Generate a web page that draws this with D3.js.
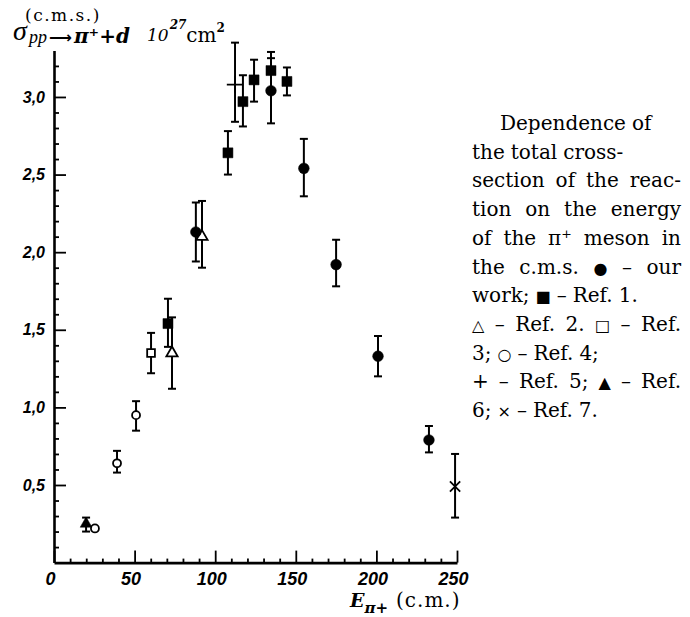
<!DOCTYPE html>
<html>
<head>
<meta charset="utf-8">
<script src="https://cdn.jsdelivr.net/npm/d3@7"></script>
<style>
  body { margin: 0; background: #fff; }
</style>
</head>
<body>
<div id="chart"></div>
<script>
// each row: [E (MeV, c.m.), sigma, lower error end, upper error end]
const ourWork = [[88, 2.13, 1.94, 2.32], [134.6, 3.04, 2.83, 3.25], [155, 2.54, 2.36, 2.73],
                 [175, 1.92, 1.78, 2.08], [201, 1.33, 1.20, 1.46], [232.6, 0.79, 0.71, 0.88]];
const ref1 = [[70.7, 1.54, 1.39, 1.70], [107.9, 2.64, 2.50, 2.78], [117.2, 2.97, 2.81, 3.14],
              [124.1, 3.11, 2.97, 3.24], [134.6, 3.17, 3.05, 3.29], [144.5, 3.10, 3.01, 3.19]];
const ref2 = [[73.2, 1.35, 1.12, 1.58], [91.8, 2.10, 1.90, 2.33]];
const ref3 = [[60.2, 1.35, 1.22, 1.48]];
const ref4 = [[25.4, 0.22, null, null], [39.1, 0.64, 0.58, 0.72], [50.9, 0.95, 0.85, 1.04]];
const ref5 = [[112.3, 3.08, 2.84, 3.35]];
const ref6 = [[19.9, 0.25, 0.20, 0.29]];
const ref7 = [[248.8, 0.49, 0.29, 0.70]];

const xMajor = [0, 50, 100, 150, 200, 250];
const yMajor = [0.5, 1.0, 1.5, 2.0, 2.5, 3.0];

const caption = [
  "Dependence of",
  "the total cross-",
  "section of the reac-",
  "tion on the energy",
  "of the π⁺ meson in",
  "the c.m.s. ● – our",
  "work; ■ – Ref. 1.",
  "△ – Ref. 2. □ – Ref.",
  "3; ○ – Ref. 4;",
  "+ – Ref. 5; ▲ – Ref.",
  "6; × – Ref. 7."
];
const justified = [false, false, true, true, true, true, false, true, false, true, false];
const symbols = ["●", "■", "△", "□", "○", "▲", "×"];

// canvas
const W = 690, H = 617;
const svg = d3.select("#chart").append("svg")
  .attr("width", W).attr("height", H)
  .style("background", "#fff");

// scales
const x = d3.scaleLinear().domain([0, 250]).range([54, 457]);
const y = d3.scaleLinear().domain([0, 3.3]).range([562.6, 50.4]);

const tickFont = "'Liberation Sans', Arial, sans-serif";
const serif = "'DejaVu Serif', serif";
const comma = d => d3.format(".1f")(d).replace(".", ",");

// minor ticks first so the major ones sit on top
svg.append("g")
  .attr("transform", `translate(0,${y(0)})`)
  .call(d3.axisBottom(x).tickValues(d3.range(10, 250, 10).filter(v => v % 50)).tickSizeInner(-4).tickSizeOuter(0).tickFormat(""))
  .call(g => g.select(".domain").remove());
svg.append("g")
  .attr("transform", `translate(${x(0)},0)`)
  .call(d3.axisLeft(y).tickValues(d3.range(1, 33).map(v => v / 10).filter(v => Math.round(v * 10) % 5)).tickSizeInner(-5).tickSizeOuter(0).tickFormat(""))
  .call(g => g.select(".domain").remove());

// x axis
const xAxis = svg.append("g")
  .attr("transform", `translate(0,${y(0)})`)
  .call(d3.axisBottom(x).tickValues(xMajor).tickSizeInner(-12).tickSizeOuter(0).tickPadding(10).tickFormat(d3.format("d")));
xAxis.selectAll("text")
  .attr("dx", -4)
  .style("font-family", tickFont)
  .style("font-style", "italic")
  .style("font-weight", "bold")
  .style("font-size", "18px");

// y axis
const yAxis = svg.append("g")
  .attr("transform", `translate(${x(0)},0)`)
  .call(d3.axisLeft(y).tickValues(yMajor).tickSizeInner(-12).tickSizeOuter(0).tickPadding(9).tickFormat(comma));
yAxis.selectAll("text")
  .style("font-family", tickFont)
  .style("font-style", "italic")
  .style("font-weight", "bold")
  .style("font-size", "16px");

svg.selectAll(".domain").attr("stroke-width", 2.6);
svg.selectAll(".tick line").attr("stroke-width", 1.8);

// error bars and markers
function drawSeries(data, type, size, filled, strokeOnly) {
  const g = svg.append("g");
  const bars = data.filter(d => d[2] != null);
  g.selectAll(".bar").data(bars).enter().append("line")
    .attr("x1", d => x(d[0])).attr("x2", d => x(d[0]))
    .attr("y1", d => y(d[2])).attr("y2", d => y(d[3]))
    .attr("stroke", "#000").attr("stroke-width", 2);
  bars.forEach(d => {
    [d[2], d[3]].forEach(v => {
      g.append("line")
        .attr("x1", x(d[0]) - 4).attr("x2", x(d[0]) + 4)
        .attr("y1", y(v)).attr("y2", y(v))
        .attr("stroke", "#000").attr("stroke-width", 2);
    });
  });
  g.selectAll(".mark").data(data).enter().append("path")
    .attr("transform", d => `translate(${x(d[0])},${y(d[1])})`)
    .attr("d", d3.symbol().type(type).size(size))
    .attr("fill", strokeOnly ? "none" : (filled ? "#000" : "#fff"))
    .attr("stroke", "#000")
    .attr("stroke-width", filled ? 0.5 : 1.8);
}

drawSeries(ref2, d3.symbolTriangle, 55, false);
drawSeries(ref3, d3.symbolSquare, 60, false);
drawSeries(ref4, d3.symbolCircle, 50, false);
drawSeries(ref6, d3.symbolTriangle, 60, true);
drawSeries(ref5, d3.symbolPlus || d3.symbolCross, 90, false, true);
drawSeries(ref7, d3.symbolTimes || d3.symbolX, 70, false, true);
drawSeries(ref1, d3.symbolSquare, 100, true);
drawSeries(ourWork, d3.symbolCircle, 90, true);

// y axis title: sigma, superscript (c.m.s.), subscript reaction
svg.append("text")
  .attr("x", 13).attr("y", 40)
  .attr("font-family", "'Liberation Serif', serif").attr("font-style", "italic")
  .attr("font-size", 28).text("σ");
svg.append("text")
  .attr("x", 25).attr("y", 21)
  .attr("font-family", serif).attr("font-size", 17).attr("letter-spacing", 1.5)
  .text("(c.m.s.)");
const reac = svg.append("text")
  .attr("x", 29).attr("y", 43)
  .attr("font-family", "'Liberation Serif', serif").attr("font-style", "italic")
  .attr("font-size", 18);
reac.append("tspan").text("pp");
reac.append("tspan").attr("dx", 2).attr("font-family", "'DejaVu Sans'").attr("font-style", "normal").attr("font-weight", "bold").attr("font-size", 16).text("⟶");
reac.append("tspan").attr("dx", 2).attr("font-family", serif).attr("font-weight", "bold").attr("font-size", 20).text("π⁺+d");

const unit = svg.append("text")
  .attr("x", 147).attr("y", 41)
  .attr("font-family", serif);
unit.append("tspan").attr("font-style", "italic").attr("font-size", 17).text("10");
unit.append("tspan").attr("dy", -12).attr("dx", 1).attr("font-style", "italic").attr("font-weight", "bold").attr("font-size", 12).text("27");
unit.append("tspan").attr("dy", 13).attr("font-size", 20).text("cm");
unit.append("tspan").attr("dy", -10).attr("font-weight", "bold").attr("font-size", 12).text("2");

// x axis title
const xt = svg.append("text")
  .attr("x", 350).attr("y", 607)
  .attr("font-family", serif);
xt.append("tspan").attr("font-style", "italic").attr("font-weight", "bold").attr("font-size", 19).text("E");
xt.append("tspan").attr("dy", 6).attr("font-style", "italic").attr("font-weight", "bold").attr("font-size", 15).text("π+");
xt.append("tspan").attr("dy", -6).attr("dx", 8).attr("font-size", 20).attr("letter-spacing", 1).text("(c.m.)");

// caption, justified word by word
const capLeft = 472, capRight = 681;
caption.forEach((line, i) => {
  const words = line.split(" ");
  const g = svg.append("text")
    .attr("font-family", serif).attr("font-size", 20).attr("fill", "#000")
    .attr("y", 130 + 28.7 * i);
  const spans = words.map(w => {
    const s = g.append("tspan").text(w);
    if (symbols.includes(w)) s.attr("font-family", "'DejaVu Sans'").attr("font-size", 16);
    return s;
  });
  const widths = spans.map(s => s.node().getComputedTextLength());
  const start = i === 0 ? 500 : capLeft;
  const gap = justified[i] && words.length > 1
    ? (capRight - start - d3.sum(widths)) / (words.length - 1)
    : 6;
  let cx = start;
  spans.forEach((s, k) => {
    s.attr("x", cx);
    cx += widths[k] + gap;
  });
});
</script>
</body>
</html>
